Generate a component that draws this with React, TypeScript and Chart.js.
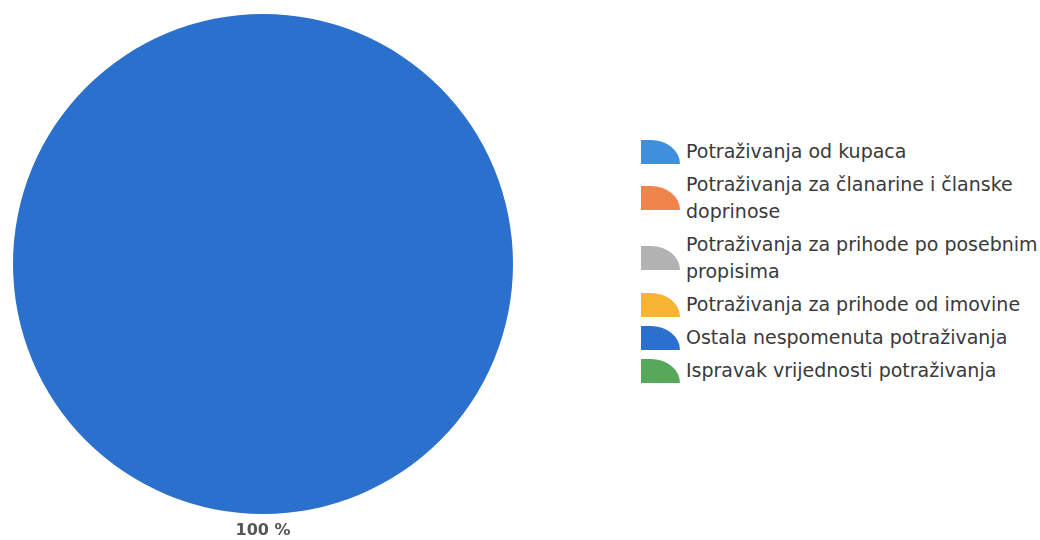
import React, { useEffect, useRef } from "react";
import { Chart, registerables } from "chart.js";

Chart.register(...registerables);

const categories: string[][] = [
  ["Potraživanja od kupaca"],
  ["Potraživanja za članarine i članske", "doprinose"],
  ["Potraživanja za prihode po posebnim", "propisima"],
  ["Potraživanja za prihode od imovine"],
  ["Ostala nespomenuta potraživanja"],
  ["Ispravak vrijednosti potraživanja"],
];
const values: number[] = [0, 0, 0, 0, 100, 0];
const colors: string[] = ["#3f8fdc", "#f0844c", "#b2b2b2", "#f8b434", "#2a70cc", "#56a95b"];

const percentLabelPlugin = {
  id: "percentLabel",
  afterDatasetsDraw(chart: any) {
    const ctx = chart.ctx;
    const meta = chart.getDatasetMeta(0);
    const data = chart.data.datasets[0].data as number[];
    const total = data.reduce((a, b) => a + b, 0);
    ctx.save();
    ctx.font = "bold 16px 'DejaVu Sans', sans-serif";
    ctx.fillStyle = "#555555";
    ctx.textAlign = "center";
    ctx.textBaseline = "middle";
    meta.data.forEach((arc: any, i: number) => {
      const v = data[i];
      if (!v) return;
      const p = arc.getProps(["x", "y", "startAngle", "endAngle", "outerRadius"], true);
      const mid = (p.startAngle + p.endAngle) / 2;
      const r = p.outerRadius + 17;
      const pct = Math.round((v / total) * 100);
      ctx.fillText(pct + " %", p.x + Math.cos(mid) * r, p.y + Math.sin(mid) * r);
    });
    ctx.restore();
  },
};

export default function App() {
  const canvasRef = useRef<HTMLCanvasElement | null>(null);

  useEffect(() => {
    document.body.style.margin = "0";
    const chart = new Chart(canvasRef.current as HTMLCanvasElement, {
      type: "pie",
      data: {
        labels: categories.map((c) => c.join(" ")),
        datasets: [
          {
            data: values,
            backgroundColor: colors,
            borderWidth: 0,
          },
        ],
      },
      options: {
        animation: false,
        responsive: true,
        maintainAspectRatio: false,
        layout: { padding: { top: 14, bottom: 26, left: 13, right: 13 } },
        plugins: {
          legend: { display: false },
          tooltip: { enabled: false },
        },
      },
      plugins: [percentLabelPlugin],
    });
    return () => chart.destroy();
  }, []);

  return (
    <div
      style={{
        position: "fixed",
        left: 0,
        top: 0,
        width: 1040,
        height: 540,
        background: "#ffffff",
        overflow: "hidden",
      }}
    >
      <div style={{ position: "absolute", left: 0, top: 0, width: 526, height: 540 }}>
        <canvas ref={canvasRef} />
      </div>
      <div
        style={{
          position: "absolute",
          left: 641,
          top: 138,
          fontFamily: "'DejaVu Sans', sans-serif",
          fontSize: 19,
          lineHeight: "27px",
          color: "#3a3a3a",
        }}
      >
        {categories.map((lines, i) => (
          <div
            key={i}
            style={{ display: "flex", alignItems: "center", marginBottom: 6 }}
          >
            <div
              style={{
                width: 39,
                height: 24,
                background: colors[i],
                borderTopRightRadius: "75% 100%",
                marginRight: 6,
                flex: "0 0 auto",
              }}
            />
            <div style={{ whiteSpace: "nowrap" }}>
              {lines.map((l, j) => (
                <div key={j}>{l}</div>
              ))}
            </div>
          </div>
        ))}
      </div>
    </div>
  );
}
